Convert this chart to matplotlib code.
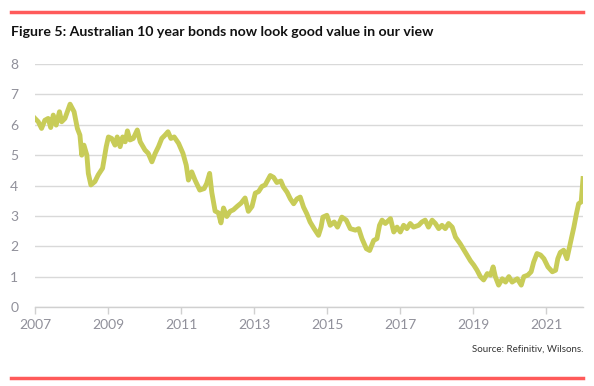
import matplotlib.pyplot as plt
from matplotlib.lines import Line2D

# -----------------------
# DATA (decimal year, yield %)
# -----------------------
years = [
    2007.00, 2007.09, 2007.18, 2007.27, 2007.36, 2007.43, 2007.50, 2007.58,
    2007.67, 2007.73, 2007.82, 2007.96, 2008.07, 2008.16, 2008.23, 2008.28,
    2008.34, 2008.42, 2008.46, 2008.53, 2008.64, 2008.73, 2008.85, 2008.95,
    2009.01, 2009.10, 2009.19, 2009.25, 2009.33, 2009.40, 2009.47, 2009.53,
    2009.60, 2009.69, 2009.80, 2009.88, 2010.01, 2010.10, 2010.20, 2010.29,
    2010.38, 2010.47, 2010.56, 2010.64, 2010.72, 2010.81, 2010.93, 2011.05,
    2011.14, 2011.20, 2011.29, 2011.38, 2011.51, 2011.63, 2011.70, 2011.78,
    2011.84, 2011.93, 2012.02, 2012.09, 2012.16, 2012.25, 2012.34, 2012.43,
    2012.53, 2012.64, 2012.75, 2012.84, 2012.94, 2013.03, 2013.12, 2013.21,
    2013.30, 2013.44, 2013.53, 2013.62, 2013.73, 2013.80, 2013.90, 2013.99,
    2014.08, 2014.17, 2014.26, 2014.35, 2014.44, 2014.53, 2014.64, 2014.76,
    2014.83, 2014.88, 2014.99, 2015.08, 2015.19, 2015.28, 2015.40, 2015.52,
    2015.63, 2015.77, 2015.86, 2015.95, 2016.07, 2016.16, 2016.27, 2016.36,
    2016.43, 2016.50, 2016.59, 2016.73, 2016.82, 2016.91, 2017.00, 2017.09,
    2017.18, 2017.27, 2017.36, 2017.50, 2017.59, 2017.68, 2017.77, 2017.87,
    2017.96, 2018.05, 2018.14, 2018.23, 2018.32, 2018.42, 2018.51, 2018.64,
    2018.78, 2018.92, 2019.01, 2019.10, 2019.19, 2019.28, 2019.38, 2019.47,
    2019.54, 2019.60, 2019.69, 2019.79, 2019.88, 2019.97, 2020.06, 2020.20,
    2020.31, 2020.38, 2020.49, 2020.58, 2020.65, 2020.74, 2020.84, 2020.93,
    2021.04, 2021.16, 2021.25, 2021.31, 2021.38, 2021.47, 2021.56, 2021.63,
    2021.68, 2021.75, 2021.82, 2021.88, 2021.95, 2021.99, 2022.00,
]
yields = [
    6.21, 6.10, 5.88, 6.15, 6.21, 5.91, 6.32, 5.99,
    6.43, 6.10, 6.21, 6.68, 6.43, 5.88, 5.66, 5.00,
    5.33, 5.00, 4.40, 4.02, 4.13, 4.35, 4.57, 5.28,
    5.60, 5.55, 5.33, 5.60, 5.28, 5.60, 5.44, 5.80,
    5.50, 5.55, 5.83, 5.44, 5.17, 5.06, 4.78, 5.06,
    5.28, 5.55, 5.66, 5.77, 5.55, 5.60, 5.39, 5.06,
    4.67, 4.18, 4.45, 4.18, 3.85, 3.90, 4.07, 4.40,
    3.77, 3.16, 3.10, 2.77, 3.26, 2.98, 3.15, 3.20,
    3.31, 3.42, 3.59, 3.15, 3.31, 3.75, 3.80, 3.97,
    4.02, 4.33, 4.27, 4.10, 4.15, 3.95, 3.78, 3.56,
    3.40, 3.56, 3.62, 3.29, 3.07, 2.80, 2.58, 2.36,
    2.63, 2.96, 3.02, 2.69, 2.80, 2.63, 2.96, 2.86,
    2.58, 2.53, 2.58, 2.25, 1.92, 1.86, 2.19, 2.25,
    2.69, 2.86, 2.75, 2.91, 2.47, 2.63, 2.47, 2.69,
    2.58, 2.75, 2.63, 2.69, 2.80, 2.86, 2.63, 2.86,
    2.75, 2.58, 2.69, 2.58, 2.75, 2.63, 2.30, 2.08,
    1.80, 1.52, 1.38, 1.21, 1.00, 0.89, 1.10, 1.05,
    1.32, 1.00, 0.72, 0.93, 0.82, 1.00, 0.82, 0.93,
    0.72, 1.00, 1.05, 1.16, 1.48, 1.76, 1.71, 1.59,
    1.32, 1.16, 1.21, 1.59, 1.80, 1.87, 1.59, 1.98,
    2.25, 2.63, 3.07, 3.40, 3.46, 4.07, 4.23,
]
year_ticks = [2007, 2009, 2011, 2013, 2015, 2017, 2019, 2021]
y_ticks = [0, 1, 2, 3, 4, 5, 6, 7, 8]

title = "Figure 5: Australian 10 year bonds now look good value in our view"
source = "Source: Refinitiv, Wilsons."

# -----------------------
# FIGURE
# -----------------------
plt.rcParams['font.family'] = ['Lato', 'DejaVu Sans']
fig = plt.figure(figsize=(5.94, 3.86), dpi=100)
ax = fig.add_axes([0.0589, 0.2047, 0.9226, 0.6293])

ax.plot(years, yields, color="#c8cc58", lw=3.5, solid_joinstyle="round")

ax.set_xlim(2007, 2022.0)
ax.set_ylim(0, 8)
ax.set_yticks(y_ticks)
ax.set_xticks(year_ticks)
ax.set_xticklabels([str(y) for y in year_ticks])

ax.grid(axis="y", color="#d9d9d9", lw=1.0)
ax.set_axisbelow(True)
for s in ["top", "right", "left"]:
    ax.spines[s].set_visible(False)
ax.spines["bottom"].set_color("#d0d0d0")
ax.spines["bottom"].set_linewidth(1.0)

ax.tick_params(axis="x", colors="#d0d0d0", length=5, width=1, labelcolor="#90909a",
               labelsize=10, pad=4)
ax.tick_params(axis="y", length=0, labelcolor="#90909a", labelsize=10, pad=12)

# -----------------------
# TEXT AND RULES
# -----------------------
fig.text(11 / 594, 1 - 32 / 386, title, fontsize=10.2, fontweight="bold",
         color="#111111", va="center", ha="left")
fig.text(583 / 594, 1 - 349 / 386, source, fontsize=7, color="#333333",
         va="center", ha="right")

for yy in [1 - 11.5 / 386, 1 - 378 / 386]:
    fig.add_artist(Line2D([11 / 594, 583 / 594], [yy, yy], color="#ff5a5a", lw=2.5))

fig.savefig("out.png", dpi=100)
